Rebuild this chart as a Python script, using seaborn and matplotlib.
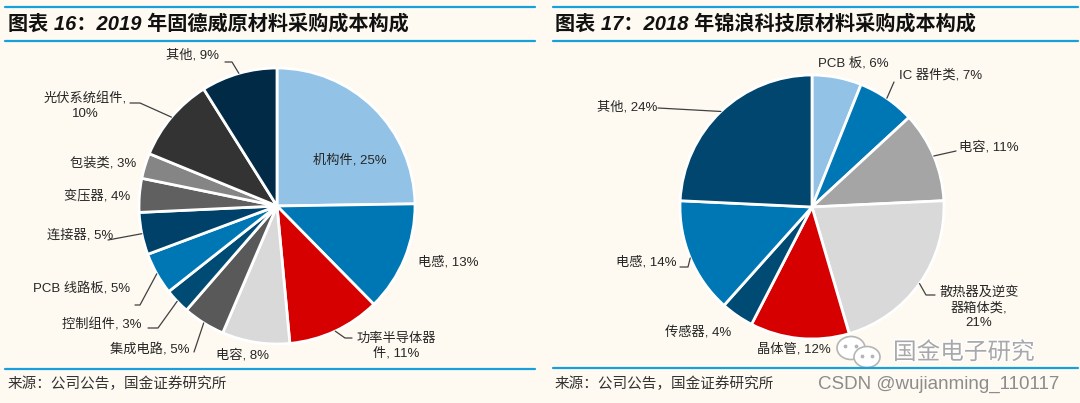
import numpy as np
import matplotlib
matplotlib.use("Agg")
import matplotlib.pyplot as plt
import matplotlib.patheffects as pe
import seaborn as sns
from matplotlib.lines import Line2D
from matplotlib.patches import Ellipse

# ===============================
# Data
# ===============================
left_title = "图表 16：2019 年固德威原材料采购成本构成"
left_names = ["机构件", "电感", "功率半导体器\n件", "电容", "集成电路", "控制组件",
              "PCB 线路板", "连接器", "变压器", "包装类", "光伏系统组件", "其他"]
left_values = [25, 13, 11, 8, 5, 3, 5, 5, 4, 3, 10, 9]
left_seps = [", "] * 10 + [",\n", ", "]

right_title = "图表 17：2018 年锦浪科技原材料采购成本构成"
right_names = ["PCB 板", "IC 器件类", "电容", "散热器及逆变\n器箱体类", "晶体管",
               "传感器", "电感", "其他"]
right_values = [6, 7, 11, 21, 12, 4, 14, 24]
right_seps = [", ", ", ", ", ", ",\n", ", ", ", ", ", ", ", "]

source_text = "来源：公司公告，国金证券研究所"

# ===============================
# Style
# ===============================
BG = "#FEFAF1"
LINE = "#18A0DC"
TXT = "#262626"

left_colors = ["#92C3E6", "#0077B5", "#D60000", "#D9D9D9", "#595959", "#004B74",
               "#0077B5", "#00416A", "#606060", "#858585", "#333333", "#002A46"]
right_colors = ["#92C3E6", "#0077B5", "#A5A5A5", "#D9D9D9", "#D60000", "#004B74",
                "#0077B5", "#00466F"]

# label centres and leader line starts (pixel positions)
left_label_pos = [(350, 160), (448, 262), (396, 346), (242, 355), (150, 350), (102, 325),
                  (82, 289), (80, 235), (97, 196), (103, 163), (85, 106), (193, 55)]
left_leaders = [None, None, [(352, 338), (345, 338)], None, [(194, 352)],
                [(148, 328), (158, 328)], [(135, 305), (140, 305)], [(108, 240)],
                None, None, [(130, 103), (140, 103)], [(225, 62), (232, 62)]]

right_label_pos = [(853, 63), (941, 75), (989, 147), (979, 308), (794, 349),
                   (698, 332), (646, 262), (627, 107)]
right_leaders = [None, [(894, 82)], [(956, 151)], [(935, 295), (926, 295)], None, None,
                 [(680, 267), (688, 267)], [(658, 108)]]

sns.set_theme(style="white")
plt.rcParams['font.family'] = ['Liberation Sans', 'Noto Sans CJK SC', 'DejaVu Sans']

W, H = 1080, 403
fig = plt.figure(figsize=(W / 100, H / 100), dpi=100, facecolor=BG)


def hline(x0, x1, y, lw=1.6):
    fig.add_artist(Line2D([x0 / W, x1 / W], [1 - y / H, 1 - y / H], color=LINE,
                          lw=lw, transform=fig.transFigure))


def draw_pie(x0, x1, cx, cy, r, values, names, seps, colors, label_pos, leaders):
    top, bot = 45, 365
    ax = fig.add_axes([x0 / W, 1 - bot / H, (x1 - x0) / W, (bot - top) / H])
    ax.set_facecolor(BG)
    wedges, _ = ax.pie(values, colors=colors, startangle=90, counterclock=False,
                       wedgeprops=dict(edgecolor="white", linewidth=2))
    ax.set_xlim((x0 - cx) / r, (x1 - cx) / r)
    ax.set_ylim((cy - bot) / r, (cy - top) / r)
    ax.set_aspect("auto")
    ax.axis("off")

    def to_d(px, py):
        return (px - cx) / r, (cy - py) / r

    for w, name, v, sep, pos, lead in zip(wedges, names, values, seps, label_pos, leaders):
        ax.text(*to_d(*pos), f"{name}{sep}{v}%", ha="center", va="center",
                fontsize=9.5, color=TXT, linespacing=1.3, multialignment="center")
        if lead:
            ang = np.deg2rad((w.theta1 + w.theta2) / 2)
            pts = [to_d(*p) for p in lead] + [(np.cos(ang), np.sin(ang))]
            xs, ys = zip(*pts)
            ax.plot(xs, ys, color="#404040", lw=0.9)


# ===============================
# Left panel
# ===============================
hline(5, 535, 7)
hline(5, 535, 41)
hline(5, 535, 369)
fig.text(8 / W, 1 - 24 / H, left_title, fontsize=14.5, fontweight="bold",
         style="italic", va="center", color="#111111")
draw_pie(0, 540, 277, 206, 138, left_values, left_names, left_seps, left_colors,
         left_label_pos, left_leaders)
fig.text(8 / W, 1 - 384 / H, source_text, fontsize=10.5, va="center", color="#333333")

# ===============================
# Right panel
# ===============================
hline(553, 1078, 7)
hline(553, 1078, 41)
hline(553, 1078, 368)
fig.text(555 / W, 1 - 24 / H, right_title, fontsize=14.5, fontweight="bold",
         style="italic", va="center", color="#111111")
draw_pie(545, 1080, 812, 207, 132, right_values, right_names, right_seps, right_colors,
         right_label_pos, right_leaders)
fig.text(555 / W, 1 - 384 / H, source_text, fontsize=10.5, va="center", color="#333333")

# ===============================
# Watermark
# ===============================
ov = fig.add_axes([0, 0, 1, 1], facecolor="none")
ov.set_xlim(0, W)
ov.set_ylim(H, 0)
ov.axis("off")
for (ex, ey, ew, eh) in [(851, 348, 28, 23), (867, 357, 26, 21)]:
    ov.add_patch(Ellipse((ex, ey), ew, eh, facecolor="white", edgecolor="#B5B5B5", lw=1.2))
ov.scatter([845, 856, 862, 872], [346, 346, 356, 356], s=3, color="#B5B5B5")

fig.text(893 / W, 1 - 353 / H, "国金电子研究", fontsize=17, va="center", color="#A8A8A8",
         path_effects=[pe.withStroke(linewidth=2, foreground="white")])
fig.text(818 / W, 1 - 384 / H, "CSDN @wujianming_110117", fontsize=13.5, va="center",
         color="#8C8C8C")

fig.savefig("out.png", dpi=100, facecolor=BG)
